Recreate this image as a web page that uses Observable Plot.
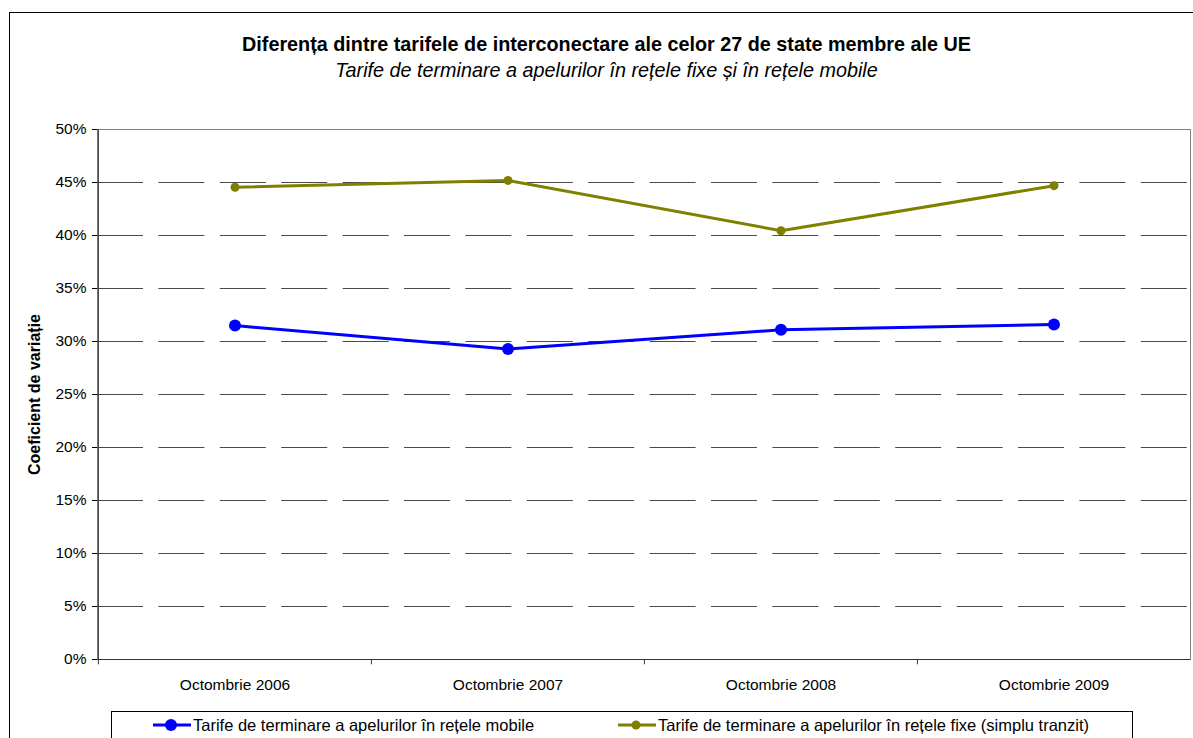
<!DOCTYPE html>
<html>
<head>
<meta charset="utf-8">
<script src="https://cdn.jsdelivr.net/npm/d3@7"></script>
<script src="https://cdn.jsdelivr.net/npm/@observablehq/plot@0.6"></script>
<style>
  html, body { margin: 0; padding: 0; background: #fff; }
  body { width: 1193px; height: 738px; overflow: hidden; position: relative; font-family: "Liberation Sans", Arial, sans-serif; }
  #outer { position: absolute; left: 9px; top: 12px; width: 1300px; height: 900px; border-left: 1px solid #000; border-top: 1px solid #000; }
  #title { position: absolute; left: 0; width: 1213px; top: 32px; text-align: center; font-weight: bold; font-size: 19.8px; line-height: 24px; color: #000; }
  #subtitle { position: absolute; left: 0; width: 1213px; top: 58px; text-align: center; font-style: italic; font-size: 19.8px; line-height: 24px; color: #000; }
  #chart { position: absolute; left: 0; top: 100px; z-index: 2; }
  #chart [aria-label="y-axis label"] text { font-weight: bold; font-size: 16px; }
  #legend { position: absolute; left: 111px; top: 711px; width: 1020px; height: 60px; border: 1px solid #000; font-size: 16.5px; color: #000; }
  .item { position: absolute; top: 3px; display: flex; align-items: center; white-space: nowrap; line-height: 20px; }
  .item svg { margin-right: 2px; }
</style>
</head>
<body>
<div id="outer"></div>
<div id="title">Diferența dintre tarifele de interconectare ale celor 27 de state membre ale UE</div>
<div id="subtitle">Tarife de terminare a apelurilor în rețele fixe și în rețele mobile</div>
<div id="legend"></div>
<div id="chart"></div>
<script>
const categories = ["Octombrie 2006", "Octombrie 2007", "Octombrie 2008", "Octombrie 2009"];
const mobileValues = [31.5, 29.3, 31.1, 31.6];
const fixedValues = [44.55, 45.2, 40.45, 44.7];
const seriesNames = ["Tarife de terminare a apelurilor în rețele mobile", "Tarife de terminare a apelurilor în rețele fixe (simplu tranzit)"];
const seriesColors = ["#0000FF", "#808000"];
const yTicks = [0, 5, 10, 15, 20, 25, 30, 35, 40, 45, 50];
const gridValues = [5, 10, 15, 20, 25, 30, 35, 40, 45];

const mobile = categories.map((c, i) => ({cat: c, v: mobileValues[i]}));
const fixed = categories.map((c, i) => ({cat: c, v: fixedValues[i]}));

const W = 1193, H = 620, mL = 97, mR = 3, mT = 29, mB = 61;
const bw = (W - mL - mR) / categories.length;

const plot = Plot.plot({
  width: W, height: H,
  marginLeft: mL, marginRight: mR, marginTop: mT, marginBottom: mB,
  style: {fontFamily: "'Liberation Sans', Arial, sans-serif", fontSize: "15.5px", color: "#000", background: "transparent"},
  x: {type: "band", domain: categories, padding: 0},
  y: {domain: [0, 50]},
  marks: [
    Plot.frame({stroke: "#808080"}),
    Plot.axisY({ticks: yTicks, tickFormat: d => d + "%", tickSize: 5, tickPadding: 6,
      label: "Coeficient de variație", labelAnchor: "center", labelArrow: "none", labelOffset: 69}),
    Plot.axisX({tickSize: 0, tickPadding: 19, label: null}),
    Plot.ruleY(gridValues, {stroke: "#4a4a4a", strokeWidth: 1, strokeDasharray: "46,15.4", className: "gridlines"}),
    Plot.ruleY([0], {stroke: "#333"}),
    Plot.ruleX([categories[0]], {dx: -bw / 2, stroke: "#333", y1: -0.5, y2: 50}),
    Plot.ruleX(categories.slice(1), {dx: -bw / 2, stroke: "#333", y1: 0, y2: -0.5}),
    Plot.line(fixed, {x: "cat", y: "v", stroke: seriesColors[1], strokeWidth: 3}),
    Plot.dot(fixed, {x: "cat", y: "v", fill: seriesColors[1], r: 4.5}),
    Plot.line(mobile, {x: "cat", y: "v", stroke: seriesColors[0], strokeWidth: 3}),
    Plot.dot(mobile, {x: "cat", y: "v", fill: seriesColors[0], r: 6})
  ]
});
document.getElementById("chart").appendChild(plot);

// align the dash pattern of each grid line with the left edge of the plot frame
const frameRect = plot.querySelector('[aria-label="frame"] rect, rect[aria-label="frame"]');
const frameLeft = frameRect ? +frameRect.getAttribute("x") : null;
const info = [];
plot.querySelectorAll(".gridlines line").forEach(l => {
  const a = +l.getAttribute("x1"), b = +l.getAttribute("x2");
  info.push(a + "-" + b);
  const lo = Math.min(a, b), hi = Math.max(a, b);
  l.setAttribute("x1", frameLeft != null && isFinite(frameLeft) ? Math.min(lo, frameLeft) : lo);
  l.setAttribute("x2", hi);
  l.setAttribute("stroke-dashoffset", "0");
});
const firstLine = plot.querySelector(".gridlines line");
if (firstLine) {
  const r = firstLine.getBoundingClientRect();
  const hit = document.elementFromPoint(r.left + 20, r.top + r.height / 2);
  console.error("grid x1-x2: " + info.join(",") + " frameLeft=" + frameLeft + " rectLeft=" + r.left +
    " hit=" + (hit ? hit.tagName + "/" + (hit.getAttribute("aria-label") || hit.id || hit.className) : "none"));
}

const legend = document.getElementById("legend");
const legendLeft = [41, 506];
const legendR = [6, 4.5];
seriesNames.forEach((name, i) => {
  const item = document.createElement("div");
  item.className = "item";
  item.style.left = legendLeft[i] + "px";
  item.innerHTML = `<svg width="38" height="14"><line x1="0" x2="38" y1="7" y2="7" stroke="${seriesColors[i]}" stroke-width="3"/><circle cx="18" cy="7" r="${legendR[i]}" fill="${seriesColors[i]}"/></svg><span>${name}</span>`;
  legend.appendChild(item);
});
</script>
</body>
</html>
